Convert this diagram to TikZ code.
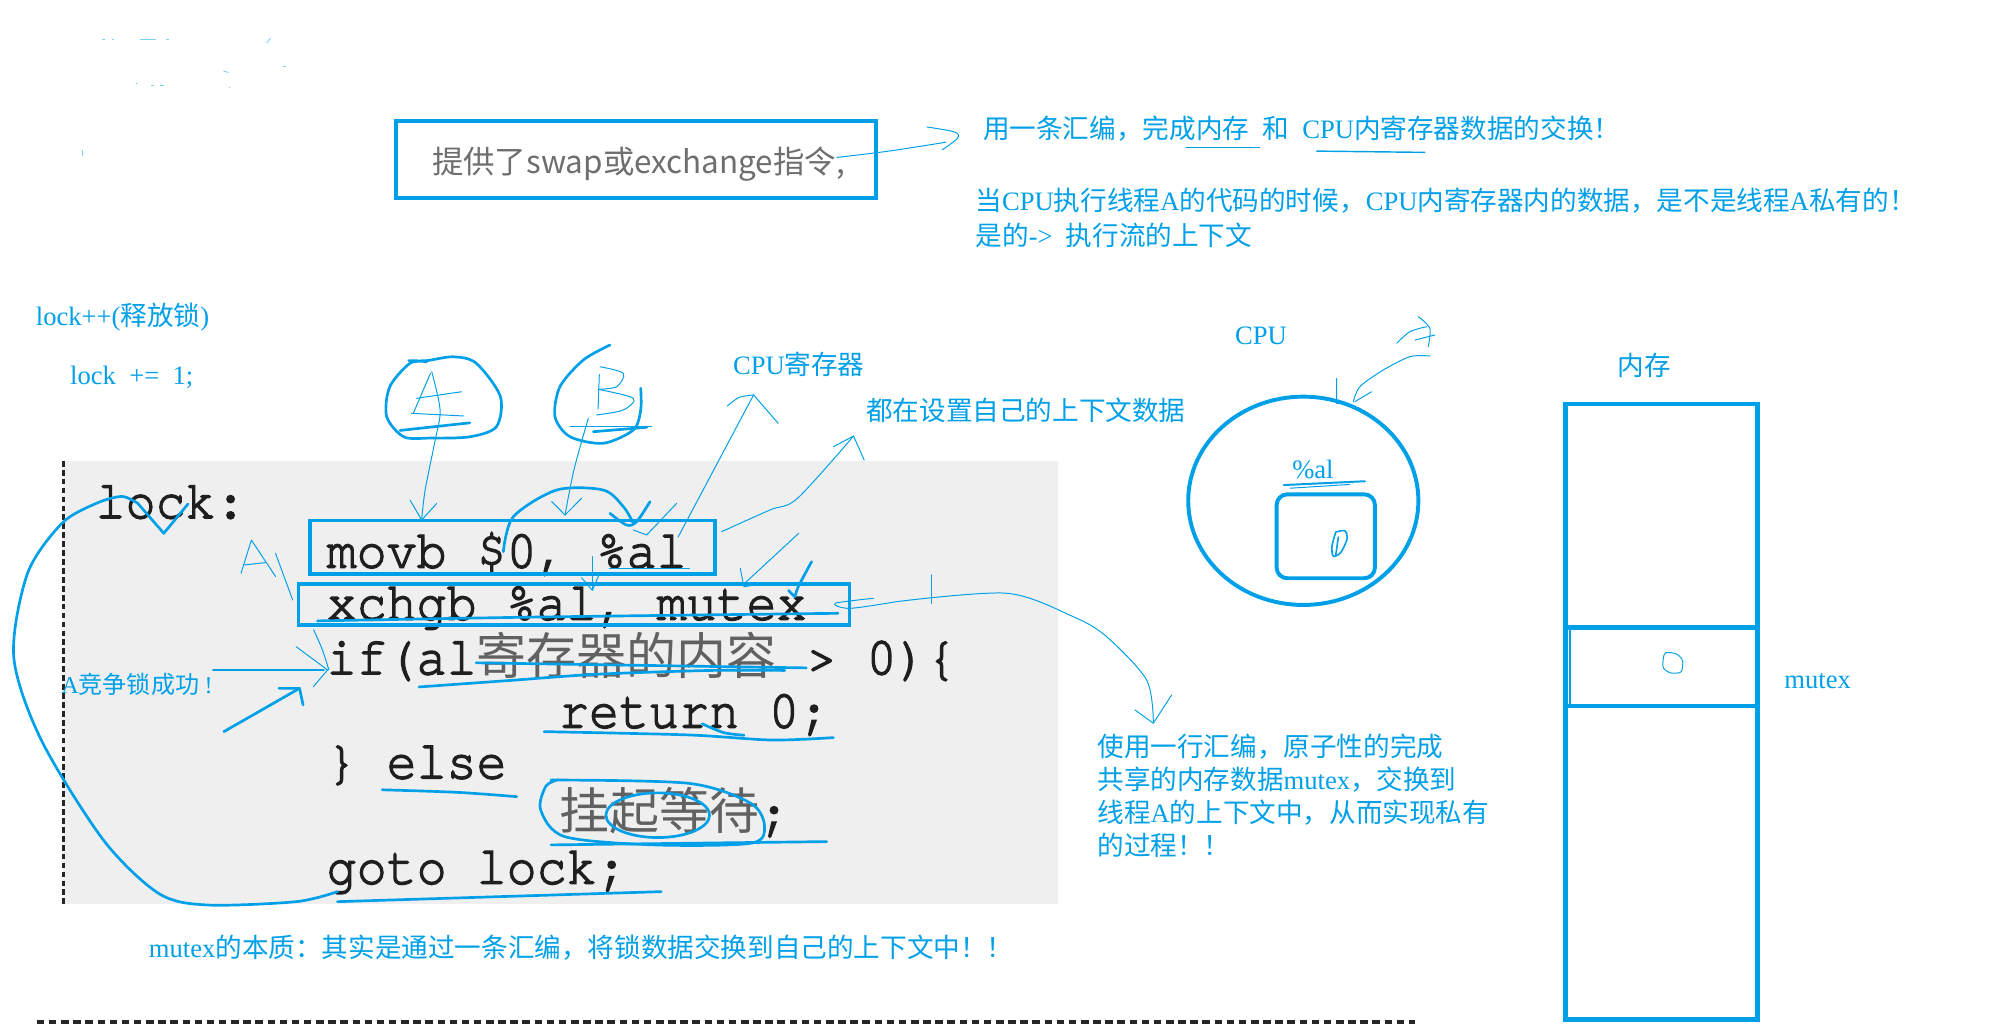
\documentclass[tikz,border=0pt]{standalone}
\usepackage{fontspec}
\setmainfont{Liberation Serif}
\newfontfamily\cjk{Noto Sans CJK SC}
\newfontfamily\lat{Liberation Serif}
\newfontfamily\codefnt{TeX Gyre Cursor}[FakeBold=2.6]
\definecolor{hb}{RGB}{0,160,233}
\definecolor{codebg}{RGB}{239,239,239}
\newcommand\bluesize{\fontsize{14.9pt}{18pt}\selectfont}
\newcommand\codesize{\fontsize{28pt}{32pt}\selectfont}
\newcommand\cc[1]{{\cjk\color{black!62}#1}}
\newcommand\cd[1]{\scalebox{1}[1.08]{#1}}
\begin{document}
\begin{tikzpicture}[x=0.025cm,y=-0.025cm,
  thinh/.style={draw=hb, line width=0.55pt, line cap=round, line join=round},
  thickh/.style={draw=hb, line width=1.5pt, line cap=round, line join=round},
  shapeh/.style={draw=hb, line width=2.2pt},
  bt/.style={text=hb, inner sep=0pt, anchor=base west, font=\bluesize\cjk},
  btc/.style={text=hb, inner sep=0pt, anchor=base, font=\bluesize\cjk},
  ct/.style={inner sep=0pt, anchor=base west, text=black!88, font=\codesize\codefnt, text height=17pt, text depth=4pt}]
\useasboundingbox (0,0) rectangle (1568,808);
\fill[white] (0,0) rectangle (1568,808);

% faint specks top-left
\begin{scope}[draw=hb, line width=0.5pt, opacity=0.5]
\draw (80,31)--(83,31); \draw (88,31)--(90,31); \draw (110,31)--(123,31); \draw (131,31)--(133,31);
\draw (210,34)--(213,30); \draw (176,56)--(180,57); \draw (223,52)--(225,52);
\draw (107,66)--(109,66); \draw (119,67)--(121,67); \draw (126,67)--(129,67); \draw (180,69)--(181,69);
\draw (65,118)--(65,123);
\end{scope}

% box 1
\draw[shapeh] (312,95) rectangle (690,156);
\node[inner sep=0pt, anchor=base west, text=black!57, font=\fontsize{17.6pt}{20pt}\selectfont\cjk] (t0) at (340,137) {提供了swap或exchange指令,};
\draw[thinh] plot[smooth] coordinates {(659,124) (700,119) (745,112)};
\draw[thinh] plot[smooth] coordinates {(730,100) (752,104) (754,109) (742,118)};

% top right texts
\node[bt] (t1) at (774,109) {用一条汇编，完成内存\hspace{0.5em}和\hspace{0.5em}{\lat CPU}内寄存器数据的交换！};
\draw[thinh] (934,116)--(992,116);
\draw[thinh, line width=0.8pt] (1037,119)--(1122,120);
\node[bt] (t2) at (768,166) {当{\lat CPU}执行线程{\lat A}的代码的时候，{\lat CPU}内寄存器内的数据，是不是线程{\lat A}私有的！};
\node[bt] (t3) at (768,193) {是的{\lat ->}\hspace{0.5em}执行流的上下文};

% left texts
\node[bt] (t4) at (28,256) {{\lat lock++(}释放锁{\lat )}};
\node[bt] (t5) at (55,303) {\lat lock\ \ +=\ \ 1;};

% code block
\fill[codebg] (50,363) rectangle (833,712);
\draw[black!85, line width=1.9pt, dash pattern=on 3.2pt off 1.8pt] (50,363) -- (50,712);
\node[ct] (c1) at (75,408) {\cd{lock:}};
\node[ct] (c2) at (257,447) {\cd{movb \$0, \%al}};
\node[ct] (c3) at (257,488) {\cd{xchgb \%al, mutex}};
\node[ct] (c4) at (257,531) {\cd{if(al}\cc{寄存器的内容}\cd{\ >\ 0)\{}};
\node[ct] (c5) at (440,573) {\cd{return 0;}};
\node[ct] (c6) at (257,613) {\cd{\}\ else}};
\node[ct] (c7) at (440,653) {\cc{挂起等待}\cd{;}};
\node[ct] (c8) at (257,696) {\cd{goto lock;}};
\draw[shapeh, line width=2pt] (244,410) rectangle (563,452);
\draw[shapeh, line width=2pt] (235,460) rectangle (669,492);

% circle A
\draw[thickh] plot[smooth] coordinates {(322,284) (336,284) (357,281) (375,286) (394,312) (391,336) (370,344) (339,345) (318,344) (304.5,328) (307,304.5) (323,286) (336,285)};
\draw[thickh] (315,339)--(370,333);
\draw[thinh] (339,294)--(325.5,325.5);
\draw[thinh] plot[smooth] coordinates {(340,292.7) (346.6,323) (342.7,346.6) (334.8,386) (332.1,409.5)};
\draw[thinh] (328,313.7)--(363.6,308.5);
\draw[thinh] (324,325.5)--(365,327.6);
\draw[thinh] (323,394)--(332.1,409.5)--(344,396.4);

% circle B
\draw[thickh] plot[smooth] coordinates {(480.4,271.7) (459.4,283.5) (441,304.5) (437.1,328.2) (448.9,343.9) (475.1,349.1) (498.8,338.6) (504.6,322.9) (504.6,305.8)};
\draw[thinh] (472,295)--(471,322);
\draw[thinh] plot[smooth] coordinates {(472.5,288.8) (490.9,294) (485.7,304.5) (471.2,306.6)};
\draw[thinh] plot[smooth] coordinates {(471.2,306.6) (498.8,313.7) (490.9,322.9) (469.9,326.8)};
\draw[thinh] (448.9,336)--(513.2,336);
\draw[thickh] (467.3,340)--(509.3,336.5);
\draw[thinh] plot[smooth] coordinates {(463.3,329.4) (452,370) (445,405.6)};
\draw[thinh] (434.5,395)--(445,405.6)--(458,392.4);

% thick curved arrow over $0
\draw[thickh] plot[smooth] coordinates {(396.4,434.5) (404.3,406.9) (438.4,385.9) (475.1,385.9) (490.9,399) (498.8,412.1)};
\draw[thickh] plot[smooth] coordinates {(480.4,404.3) (493.5,413.5) (501.4,410.8) (511.9,395.1)};

% %al -> CPU寄存器
\draw[thinh] (534,423) -- (593.5,311);
\draw[thinh] plot[smooth] coordinates {(572.8,319.7) (582,313) (593.5,311)};
\draw[thinh] (593.5,311)--(612.9,333.4);
\draw[thinh] (498.8,417.4)--(509.3,421.3)--(532.9,396.4);
\draw[thinh] (480,448)--(543,448);
\node[bt] (t6) at (577,295) {{\lat CPU}寄存器};

% movb box -> 都在设置
\draw[thinh] plot[smooth] coordinates {(568.3,418.7) (606.4,401.6) (628,392.5) (672.2,343.4)};
\draw[thinh] (656.3,351.8)--(672.2,343.4)--(680.6,362.3);
\node[bt] (t7) at (682,331) {都在设置自己的上下文数据};

% arrows into xchgb
\draw[thinh] (629,420)--(585.8,460);
\draw[thinh] (583,447.6)--(585.8,462)--(604.8,459.4);
\draw[thickh] plot[smooth] coordinates {(639.2,442.3) (628.7,462) (626.1,469.9)};
\draw[thickh] (621,465)--(626,470);
\draw[thinh] (466.5,438.4)--(466.5,464.6);
\draw[thinh] (458,455)--(466.5,465)--(472,452);

% xchgb -> 使用一行汇编
\draw[thinh] plot[smooth] coordinates {(687.8,471.2) (657.6,475.1) (669.4,479.1) (706.2,473.8)};
\draw[thinh] plot[smooth] coordinates {(706.2,473.8) (792.8,467.2) (845.3,485.7) (871.5,501.4) (903,535.5) (908.3,568.3)};
\draw[thinh] (893.8,559.1)--(908.3,569.6)--(922.7,547.3);
\draw[thinh] (733.7,452.8)--(733.7,475.1);

% A near xchgb
\draw[thinh] (189.8,451.5)--(198,425.3)--(217,454);
\draw[thinh] (192.6,444.9)--(208.8,443.1);
\draw[thinh] (217,435.8)--(230.5,472.5);
\draw[thinh] plot[smooth] coordinates {(247,496) (254,512) (259,527.6)};
\draw[thinh] (233.2,509.3)--(258,527.6)--(246.8,540.8);
\draw[thickh] (168,527.6)--(255,527.6);
\draw[thickh] (176.3,576.2)--(235.9,542.1);
\draw[thickh] (219.7,542.1)--(235.9,542.1)--(238.7,555.2);
\node[bt, font=\fontsize{13.5pt}{16pt}\selectfont\cjk] (t16) at (48,546) {{\lat A}竞争锁成功 {\lat !}};

% big loop goto -> lock
\draw[thickh] plot[smooth] coordinates {(265.8,702.2) (233.2,710.1) (162.7,712.7) (124.8,703.5) (81.4,661.5) (32.5,582.8) (10.8,517.1) (21.7,451.5) (48.8,412.1) (75.9,396.4) (96,391) (108.5,396.4)};
\draw[thickh] (108.5,396.4)--(129,420)--(148,397);

% code underlines
\draw[thickh] plot[smooth] coordinates {(250,489) (420,486) (660,483)};
\draw[thickh] plot[smooth] coordinates {(330,541) (400,536) (470,531) (560,528) (618,528)};
\draw[thickh] (375,522)--(635,526);
\draw[thickh] plot[smooth] coordinates {(428.5,576.2) (542.4,578.8) (607.5,582.8) (656.3,580.9)};
\draw[thickh] plot[smooth] coordinates {(553,570) (570,577) (586,579)};
\draw[thickh] plot[smooth] coordinates {(301,622) (360,624) (407,627.4)};
\draw[thickh] plot[smooth] coordinates {(433.9,614.3) (542.4,616.9) (591.2,632.6) (602.1,651) (591.2,664.1) (515.3,665.4) (444.8,658.9) (425.8,637.9) (430,619) (440,614)};
\draw[thickh] (518,642) ellipse [x radius=1.02cm, y radius=0.44cm];
\draw[thickh] (434,665.4)--(651,662.8);
\draw[thickh] (265.8,710.1)--(520.7,702.2);

% CPU
\node[btc] (t8) at (993,271) {\lat CPU};
\draw[thinh] plot[smooth] coordinates {(1099.9,270.4) (1110.4,261.2) (1123.6,257.3)};
\draw[thinh] plot[smooth] coordinates {(1116.9,249.4) (1126.1,258.6) (1124.8,273)};
\draw[thinh] (1114.3,267.8)--(1130.1,263.8);
\draw[thinh] plot[smooth] coordinates {(1126.1,280.4) (1110.4,280.9) (1089.4,291.4) (1071,304.5) (1065.8,316.3)};
\draw[thinh] (1052.7,298)--(1052.7,317.6)--(1062,318);
\draw[thinh] (1080.2,308.5)--(1067.1,316.3);
\draw[shapeh] (1026.4,394.4) ellipse [x radius=2.265cm, y radius=2.05cm];
\node[btc] (t9) at (1034,377) {\lat\%al};
\draw[thickh, line width=1.1pt] (1011,382)--(1075,379);
\draw[thinh] (1016,384.5)--(1063,381.5);
\draw[shapeh, rounded corners=6pt] (1005.4,389.3) rectangle (1082.8,455.4);
\draw[thinh, line width=0.9pt] plot[smooth] coordinates {(1052,419) (1049,430) (1050,438) (1056,435) (1061,424) (1059,418) (1052,419)};
\draw[thinh, line width=0.9pt] (1054,423)--(1052,437);

% memory
\node[btc] (t10) at (1295,296) {内存};
\draw[shapeh, line width=2.5pt] (1233,318) rectangle (1384,803);
\draw[shapeh, line width=2.5pt] (1233,494)--(1384,494);
\draw[shapeh, line width=2.5pt] (1233,556)--(1384,556);
\draw[hb, line width=1.5pt] (1236.5,494)--(1236.5,556);
\draw[thinh] plot[smooth cycle] coordinates {(1312,514) (1320,515) (1325,520) (1324,529) (1316,530) (1310,526) (1310,518)};
\node[bt] (t11) at (1405,542) {\lat mutex};

% explanation texts
\node[bt] (t12) at (864,596) {使用一行汇编，原子性的完成};
\node[bt] (t13) at (864,622) {共享的内存数据{\lat mutex}，交换到};
\node[bt] (t14) at (864,648) {线程{\lat A}的上下文中，从而实现私有};
\node[bt] (t15) at (864,674) {的过程！！};
\node[bt] (t17) at (117,754) {{\lat mutex}的本质：其实是通过一条汇编，将锁数据交换到自己的上下文中！！};

% bottom dashed line
\draw[black!85, line width=2.2pt, dash pattern=on 4.2pt off 2.6pt] (29,805)--(1114,805);
\end{tikzpicture}
\end{document}
